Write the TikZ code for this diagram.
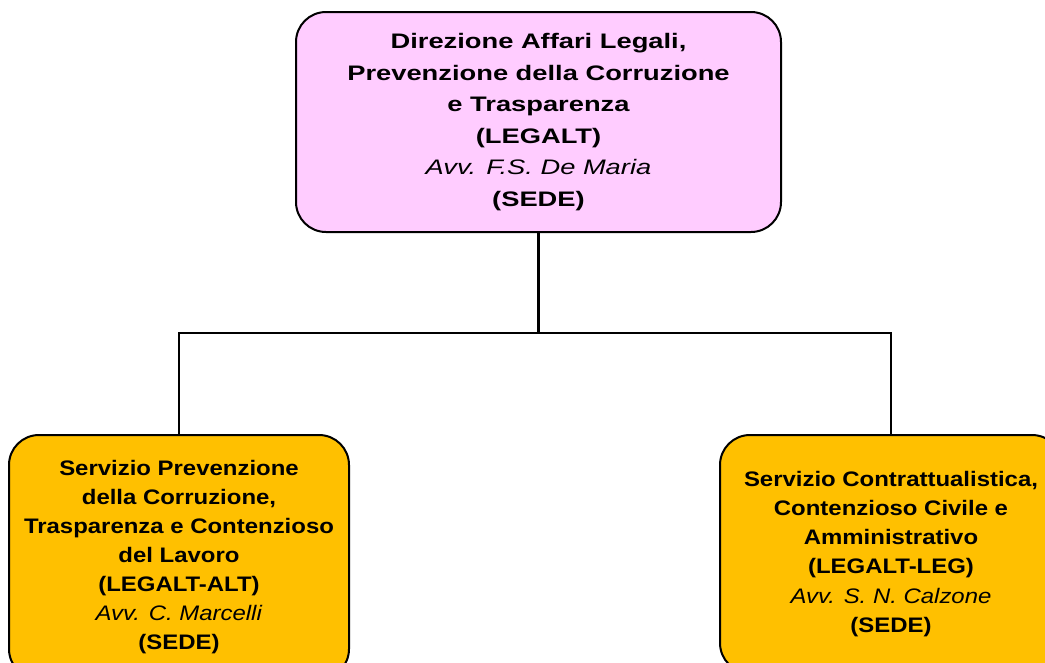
\documentclass[tikz,border=0pt]{standalone}
\usepackage{fontspec}
\setmainfont{Liberation Sans}
\newfontfamily\largo[FakeStretch=1.3]{Liberation Sans}
\newfontfamily\medio[FakeStretch=1.14]{Liberation Sans}
\definecolor{rosa}{HTML}{FFCCFF}
\definecolor{arancio}{HTML}{FFC000}
\tikzset{
  ufficio/.style={draw=black,line width=2pt,rounded corners=30pt,align=center,inner sep=0pt},
  direz/.style={ufficio,fill=rosa,font=\largo\fontsize{21}{31.6}\selectfont\bfseries},
  serv/.style={ufficio,fill=arancio,font=\medio\fontsize{21}{29.1}\selectfont\bfseries},
  collega/.style={draw=black,line width=2.6pt}
}
\begin{document}
\begin{tikzpicture}[x=1pt,y=-1pt]
        \useasboundingbox (0,0) rectangle (1045,662);
        \clip (0,0) rectangle (1045,662);
        % direzione
        \node[direz,minimum width=485pt,minimum height=220pt] (legalt) at (538.5,122)
          {Direzione Affari Legali,\\Prevenzione della Corruzione\\e Trasparenza\\(LEGALT)\\
           \textit{\mdseries Avv. F.S. De Maria}\\(SEDE)};
        % servizi
        \node[serv,minimum width=340pt,minimum height=244pt] (alt) at (179,557)
          {Servizio Prevenzione\\della Corruzione,\\Trasparenza e Contenzioso\\del Lavoro\\(LEGALT-ALT)\\
           \textit{\mdseries Avv. C. Marcelli}\\(SEDE)};
        \node[serv,minimum width=342pt,minimum height=238pt] (leg) at (891,554)
          {Servizio Contrattualistica,\\Contenzioso Civile e\\Amministrativo\\(LEGALT-LEG)\\
           \textit{\mdseries Avv. S. N. Calzone}\\(SEDE)};
        \coordinate (nodo) at (538.5,333);
        \draw[collega] (legalt.south) -- (nodo);
        \draw[collega] (nodo) -| (alt.north);
        \draw[collega] (nodo) -| (leg.north);
\end{tikzpicture}
\end{document}
